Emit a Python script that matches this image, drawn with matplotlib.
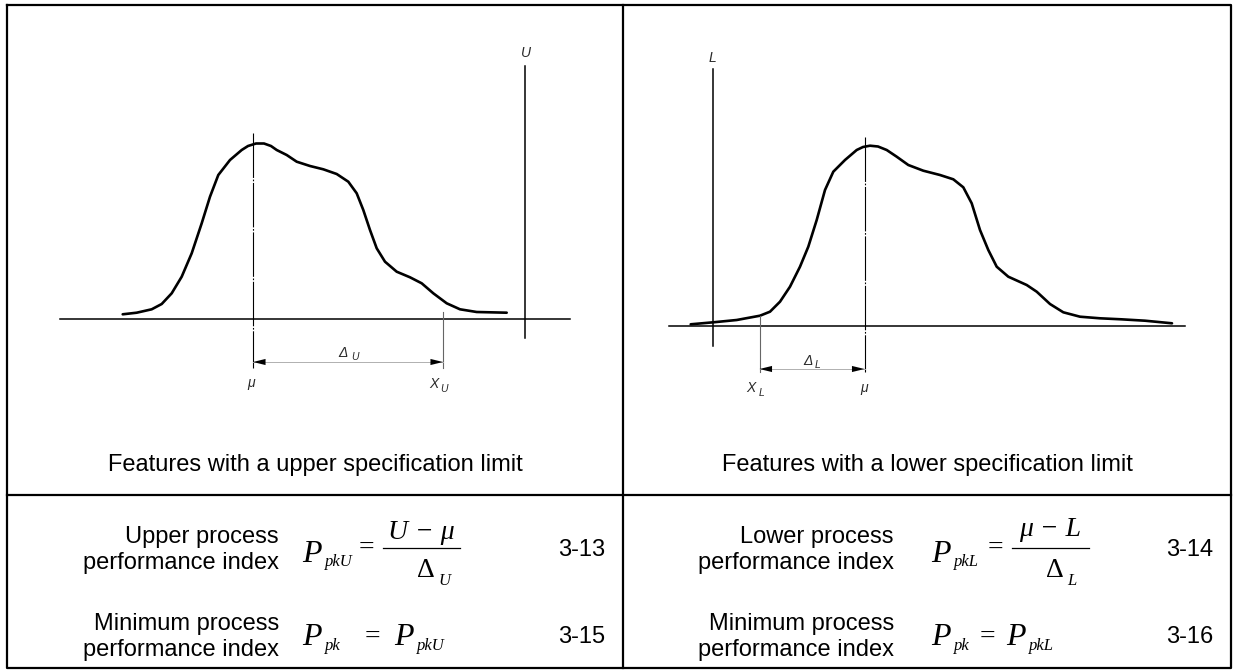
import matplotlib
matplotlib.use("Agg")
import matplotlib.pyplot as plt

# ---- values (figure pixel coordinates, y down) ----
# left diagram: feature with an upper specification limit
upper_curve_x = [122.7, 136.7, 151.7, 161.7, 171.7, 181.7, 191.7, 201.7, 210, 218.3, 230,
                 241.7, 248, 256, 264, 271, 276.7, 286.7, 296.7, 310, 323.3, 336.7, 348.3,
                 356.7, 363.3, 370, 376.7, 385, 396.7, 410, 421.7, 433.3, 446.7, 460, 476.7, 506.7]
upper_curve_y = [314.3, 312.7, 309.3, 304, 293.3, 276.7, 253.3, 223.3, 196.7, 175, 160,
                 150, 146, 143.5, 143.5, 146, 150, 155, 161.7, 166, 169.3, 174, 181.7,
                 193.3, 210, 230, 248.3, 261.7, 271.7, 277.3, 283.3, 293.3, 303.3, 309.3, 312, 312.7]
upper_axis = (60, 570, 319)        # x0, x1, y of baseline
upper_limit = (524.5, 66, 338)     # x, y top, y bottom of U
upper_mu = (253, 133, 368)
upper_xu = (443, 312, 368)
upper_dim_y = 362

# right diagram: feature with a lower specification limit
lower_curve_x = [690.7, 713.3, 736.7, 760, 770, 780, 790, 800, 808.3, 816.7, 825, 833.3, 845,
                 856.7, 863, 870, 878, 886.7, 896.7, 908.3, 923.3, 940, 953.3, 963.3, 971.7,
                 980, 988.3, 996.7, 1008.3, 1026.7, 1036.7, 1050, 1063.3, 1080, 1100, 1121,
                 1145, 1172]
lower_curve_y = [324.3, 322.3, 320, 315.7, 311.7, 301.7, 286.7, 266.7, 246.7, 220, 190, 171.7, 160,
                 150, 147, 145.7, 146.5, 150, 156.7, 165, 170.7, 175, 179.3, 187.3, 203.3,
                 230, 250, 266.7, 276.7, 285, 291.7, 304, 312.3, 316.7, 318.3, 319.3,
                 320.7, 323.3]
lower_axis = (669, 1185, 326)
lower_limit = (712.5, 69, 346)
lower_mu = (864.5, 137, 372)
lower_xl = (759.5, 316, 372)
lower_dim_y = 369

captions = ["Features with a upper specification limit",
            "Features with a lower specification limit"]
row_labels = [["Upper process\nperformance index", "Minimum process\nperformance index"],
              ["Lower process\nperformance index", "Minimum process\nperformance index"]]
eq_numbers = [["3-13", "3-15"], ["3-14", "3-16"]]
limit_names = ["U", "L"]
numerators = ["U \u2212 \u03bc", "\u03bc \u2212 L"]

# table grid
table_left, table_right, table_top, table_bottom = 7, 1231, 5, 668
col_split, row_split = 623, 495

SANS = "Liberation Sans"
SERIF = "Liberation Serif"
LBL = dict(family=SANS, style="italic", color="#2a2a2a")

fig = plt.figure(figsize=(12.34, 6.71), dpi=100)
ax = fig.add_axes([0, 0, 1, 1])
ax.set_xlim(0, 1234)
ax.set_ylim(671, 0)
ax.axis("off")

# ---- table frame ----
ax.plot([table_left, table_right, table_right, table_left, table_left],
        [table_top, table_top, table_bottom, table_bottom, table_top], color="black", lw=1.6)
ax.plot([col_split, col_split], [table_top, table_bottom], color="black", lw=1.6)
ax.plot([table_left, table_right], [row_split, row_split], color="black", lw=1.6)


def dim_arrow(x_from, x_to, y):
    ax.plot([x_from, x_to], [y, y], color="#b0b0b0", lw=0.7)
    for a, b in ((x_from, x_to), (x_to, x_from)):
        step = 12 if b > a else -12
        ax.annotate("", xy=(a, y), xytext=(a + step, y),
                    arrowprops=dict(arrowstyle="-|>,head_length=0.9,head_width=0.22",
                                    color="black", lw=0.01, shrinkA=0, shrinkB=0))


def diagram(cx, cy, axis, limit, mu, ext, dim_y):
    ax.plot(cx, cy, color="black", lw=1.9, solid_capstyle="round", solid_joinstyle="round")
    ax.plot([axis[0], axis[1]], [axis[2], axis[2]], color="black", lw=1.1)
    ax.plot([limit[0], limit[0]], [limit[1], limit[2]], color="black", lw=1.1)
    ax.plot([mu[0], mu[0]], [mu[1], mu[2]], color="black", lw=0.8, dashes=(40, 1.5, 1.5, 1.5))
    ax.plot([ext[0], ext[0]], [ext[1], ext[2]], color="#666666", lw=0.8)
    dim_arrow(mu[0], ext[0], dim_y)


diagram(upper_curve_x, upper_curve_y, upper_axis, upper_limit, upper_mu, upper_xu, upper_dim_y)
diagram(lower_curve_x, lower_curve_y, lower_axis, lower_limit, lower_mu, lower_xl, lower_dim_y)

# diagram labels
ax.text(upper_limit[0] - 4, 57, "U", fontsize=10, **LBL)
ax.text(upper_mu[0] - 6, 387, "\u03bc", fontsize=10, **LBL)
ax.text(upper_xu[0] - 14, 388, "X", fontsize=10, **LBL)
ax.text(upper_xu[0] - 3, 392, "U", fontsize=7.5, **LBL)
ax.text(338, 357, "\u0394", fontsize=10, **LBL)
ax.text(351, 360, "U", fontsize=7.5, **LBL)

ax.text(lower_limit[0] - 4, 62, "L", fontsize=10, **LBL)
ax.text(lower_mu[0] - 4, 392, "\u03bc", fontsize=10, **LBL)
ax.text(lower_xl[0] - 13, 392, "X", fontsize=10, **LBL)
ax.text(lower_xl[0] - 1, 396, "L", fontsize=7.5, **LBL)
ax.text(803, 365, "\u0394", fontsize=10, **LBL)
ax.text(815, 368, "L", fontsize=7.5, **LBL)

# captions
for i, cap in enumerate(captions):
    cell_l = table_left if i == 0 else col_split
    cell_r = col_split if i == 0 else table_right
    ax.text((cell_l + cell_r) / 2, 465, cap, family=SANS, fontsize=17,
            ha="center", va="center")

# ---- formulas ----
cells = [dict(x0=table_left, lab_r=279, px=302, num_y=539, eq2=364, p2=394, num_x=376),
         dict(x0=col_split, lab_r=894, px=931, num_y=536, eq2=979, p2=1006, num_x=1166)]
row_y = [550, 637]

for i, c in enumerate(cells):
    name = limit_names[i]
    for r in range(2):
        lines = row_labels[i][r].split("\n")
        ax.text(c["lab_r"], row_y[r] - 13, lines[0], family=SANS, fontsize=17, ha="right", va="center")
        ax.text(c["lab_r"], row_y[r] + 13, lines[1], family=SANS, fontsize=17, ha="right", va="center")
        num_left = c["num_x"] + (182 if i == 0 else 0)
        ax.text(num_left, row_y[r], eq_numbers[i][r], family=SANS, fontsize=17, ha="left", va="center")

    # row 1: P_pkX = (numerator) / Delta_X
    base = 562
    ax.text(c["px"], base, "P", family=SERIF, style="italic", fontsize=23, va="baseline")
    ax.text(c["px"] + 23, base + 4, "pk" + name, family=SERIF, style="italic", fontsize=12, va="baseline")
    ax.text(c["px"] + 64, 548, "=", family=SERIF, fontsize=20, ha="center", va="center")
    bar_x0, bar_x1 = c["px"] + 81, c["px"] + 158
    ax.plot([bar_x0, bar_x1], [547.5, 547.5], color="black", lw=0.9)
    ax.text((bar_x0 + bar_x1) / 2, c["num_y"], numerators[i], family=SERIF, style="italic",
            fontsize=20, ha="center", va="baseline")
    ax.text(bar_x0 + 34, 577, "\u0394", family=SERIF, fontsize=20, va="baseline")
    ax.text(bar_x0 + 55, 585, name, family=SERIF, style="italic", fontsize=12, va="baseline")

    # row 2: P_pk = P_pkX
    base = 645
    ax.text(c["px"], base, "P", family=SERIF, style="italic", fontsize=23, va="baseline")
    ax.text(c["px"] + 23, base + 5, "pk", family=SERIF, style="italic", fontsize=12, va="baseline")
    ax.text(c["eq2"] + 8, 637, "=", family=SERIF, fontsize=20, ha="center", va="center")
    ax.text(c["p2"], base, "P", family=SERIF, style="italic", fontsize=23, va="baseline")
    ax.text(c["p2"] + 23, base + 5, "pk" + name, family=SERIF, style="italic", fontsize=12, va="baseline")

fig.savefig("out.png", dpi=100)
